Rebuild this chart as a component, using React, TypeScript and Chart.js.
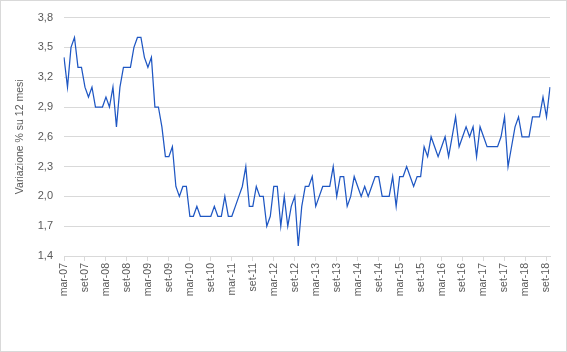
import React, { useEffect, useRef } from "react";
import { Chart, registerables } from "chart.js";

Chart.register(...registerables);

// Month names (Italian) used to build the category labels
const MONTHS = ["gen", "feb", "mar", "apr", "mag", "giu", "lug", "ago", "set", "ott", "nov", "dic"];
const START_YEAR = 2007;
const START_MONTH = 2; // marzo

// Variazione % su 12 mesi, monthly from mar-07 to ott-18
const VALUES = [
  3.4, 3.1, 3.5, 3.6, 3.3, 3.3, 3.1, 3.0, 3.1, 2.9,
  2.9, 2.9, 3.0, 2.9, 3.1, 2.7, 3.1, 3.3, 3.3, 3.3,
  3.5, 3.6, 3.6, 3.4, 3.3, 3.4, 2.9, 2.9, 2.7, 2.4,
  2.4, 2.5, 2.1, 2.0, 2.1, 2.1, 1.8, 1.8, 1.9, 1.8,
  1.8, 1.8, 1.8, 1.9, 1.8, 1.8, 2.0, 1.8, 1.8, 1.9,
  2.0, 2.1, 2.3, 1.9, 1.9, 2.1, 2.0, 2.0, 1.7, 1.8,
  2.1, 2.1, 1.7, 2.0, 1.7, 1.9, 2.0, 1.5, 1.9, 2.1,
  2.1, 2.2, 1.9, 2.0, 2.1, 2.1, 2.1, 2.3, 2.0, 2.2,
  2.2, 1.9, 2.0, 2.2, 2.1, 2.0, 2.1, 2.0, 2.1, 2.2,
  2.2, 2.0, 2.0, 2.0, 2.2, 1.9, 2.2, 2.2, 2.3, 2.2,
  2.1, 2.2, 2.2, 2.5, 2.4, 2.6, 2.5, 2.4, 2.5, 2.6,
  2.4, 2.6, 2.8, 2.5, 2.6, 2.7, 2.6, 2.7, 2.4, 2.7,
  2.6, 2.5, 2.5, 2.5, 2.5, 2.6, 2.8, 2.3, 2.5, 2.7,
  2.8, 2.6, 2.6, 2.6, 2.8, 2.8, 2.8, 3.0, 2.8, 3.1,
];

const CATEGORIES = VALUES.map((_, i) => {
  const m = (START_MONTH + i) % 12;
  const y = START_YEAR + Math.floor((START_MONTH + i) / 12);
  return `${MONTHS[m]}-${String(y % 100).padStart(2, "0")}`;
});

const LABEL_EVERY = 6;
const Y_MIN = 1.4;
const Y_MAX = 3.8;
const Y_STEP = 0.3;
const Y_TITLE = "Variazione % su 12 mesi";

const TEXT_COLOR = "#595959";
const GRID_COLOR = "#d9d9d9";
const LINE_COLOR = "#1f57c3";
const FONT = "'Liberation Sans', Arial, sans-serif";

const borderPlugin = {
  id: "outerBorder",
  afterDraw(chart: any) {
    const { ctx, width, height } = chart;
    ctx.save();
    ctx.strokeStyle = GRID_COLOR;
    ctx.lineWidth = 1;
    ctx.strokeRect(0.5, 0.5, width - 1, height - 1);
    ctx.restore();
  },
};

export default function App() {
  const ref = useRef<HTMLCanvasElement | null>(null);

  useEffect(() => {
    if (!ref.current) return;
    const chart = new Chart(ref.current, {
      type: "line",
      data: {
        labels: CATEGORIES,
        datasets: [
          {
            data: VALUES,
            borderColor: LINE_COLOR,
            borderWidth: 1.25,
            pointRadius: 0,
            tension: 0,
            fill: false,
          },
        ],
      },
      options: {
        responsive: false,
        animation: false,
        layout: { padding: { left: 10, top: 15, right: 17, bottom: 0 } },
        plugins: {
          legend: { display: false },
          tooltip: { enabled: false },
        },
        scales: {
          x: {
            type: "category",
            offset: false,
            afterFit: (s: any) => {
              s.height = 96;
            },
            border: { display: true, color: GRID_COLOR, width: 1 },
            grid: {
              drawOnChartArea: false,
              drawTicks: true,
              tickLength: 5,
              tickColor: (c: any) => (c.index % LABEL_EVERY === 0 ? GRID_COLOR : "rgba(0,0,0,0)"),
            },
            ticks: {
              autoSkip: false,
              minRotation: 90,
              maxRotation: 90,
              padding: 2,
              color: TEXT_COLOR,
              font: { family: FONT, size: 10.5 },
              callback: (_v: any, i: number) => (i % LABEL_EVERY === 0 ? CATEGORIES[i] : ""),
            },
          },
          y: {
            min: Y_MIN,
            max: Y_MAX,
            afterFit: (s: any) => {
              s.width = 54;
            },
            border: { display: false },
            grid: { color: GRID_COLOR, drawTicks: false, lineWidth: 1 },
            ticks: {
              stepSize: Y_STEP,
              padding: 11,
              color: TEXT_COLOR,
              font: { family: FONT, size: 11 },
              callback: (v: any) => Number(v).toFixed(1).replace(".", ","),
            },
            title: {
              display: true,
              text: Y_TITLE,
              color: TEXT_COLOR,
              font: { family: FONT, size: 10.5 },
              padding: { top: 4, bottom: 4 },
            },
          },
        },
      },
      plugins: [borderPlugin],
    });
    return () => chart.destroy();
  }, []);

  return (
    <div style={{ position: "fixed", left: 0, top: 0, width: 567, height: 352, background: "#fff" }}>
      <canvas ref={ref} width={567} height={352} style={{ display: "block" }} />
    </div>
  );
}
